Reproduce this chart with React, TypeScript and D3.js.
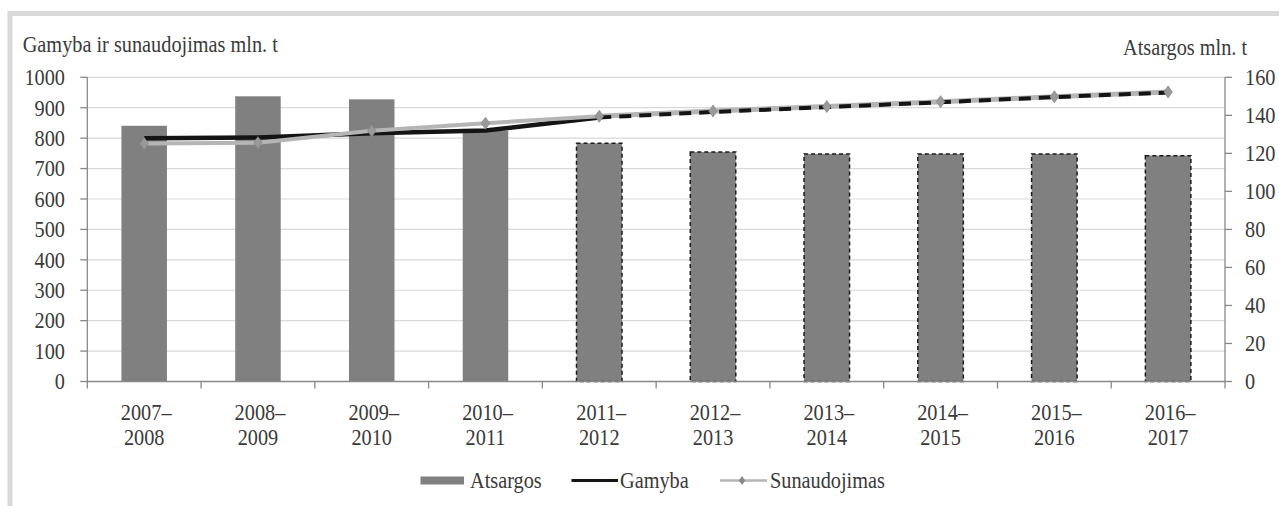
import React from "react";
import * as d3 from "d3";

const categories = ["2007–2008", "2008–2009", "2009–2010", "2010–2011", "2011–2012", "2012–2013", "2013–2014", "2014–2015", "2015–2016", "2016–2017"];
const atsargos = [134.5, 150, 148.4, 132, 125.3, 120.7, 119.7, 119.7, 119.7, 118.8];
const gamyba = [800, 802, 816, 825, 868, 886, 902, 918, 935, 950];
const sunaudojimas = [782, 785, 824, 849, 872, 889, 904, 920, 936, 952];
const forecastFrom = 4;
const leftTicks = [0, 100, 200, 300, 400, 500, 600, 700, 800, 900, 1000];
const rightTicks = [0, 20, 40, 60, 80, 100, 120, 140, 160];
const leftTitle = "Gamyba ir sunaudojimas mln. t";
const rightTitle = "Atsargos mln. t";
const legendLabels = ["Atsargos", "Gamyba", "Sunaudojimas"];

const W = 1279;
const H = 506;
const X0 = 87.3;
const X1 = 1225;
const Y0 = 381.5;
const Y1 = 77.3;
const FS = 20.3;
const SY = 1.13;
const FONT = "Liberation Serif";
const TXT = "#3a3a3a";

const T = ({ x, y, anchor = "start", children }: any) => (
  <text
    transform={`translate(${x},${y}) scale(1,${SY})`}
    textAnchor={anchor}
    style={{ fontFamily: FONT, fontSize: FS + "px" }}
    fill={TXT}
  >
    {children}
  </text>
);

export default function App() {
  const x = d3.scaleBand<string>().domain(categories).range([X0, X1]).paddingInner(0.6).paddingOuter(0.3);
  const step = x.step();
  const yL = d3.scaleLinear().domain([0, 1000]).range([Y0, Y1]);
  const yR = d3.scaleLinear().domain([0, 160]).range([Y0, Y1]);
  const cx = (c: string) => (x(c) as number) + x.bandwidth() / 2;

  const lineIdx = (vals: number[], from: number, to: number) =>
    d3
      .line<number>()
      .x((d) => cx(categories[d]))
      .y((d) => yL(vals[d]))(d3.range(from, to + 1));

  const n = categories.length;
  const diamond = (px: number, py: number, w = 4.2, h = 6) =>
    `M${px},${py - h}L${px + w},${py}L${px},${py + h}L${px - w},${py}Z`;

  const digitOff = 0.34 * FS * SY;

  return (
    <svg width={W} height={H} style={{ position: "absolute", left: 0, top: 0, background: "#fff" }}>
      {/* frame */}
      <rect x={10} y={13.5} width={W + 20} height={H + 20} fill="none" stroke="#d9d9d9" strokeWidth={5} />

      {/* gridlines */}
      {leftTicks.slice(1).map((t) => (
        <line key={t} x1={X0} x2={X1} y1={yL(t)} y2={yL(t)} stroke="#d9d9d9" strokeWidth={1.2} />
      ))}

      {/* bars */}
      {categories.map((c, i) => (
        <rect
          key={c}
          x={x(c)}
          y={yR(atsargos[i])}
          width={x.bandwidth()}
          height={Y0 - yR(atsargos[i])}
          fill="#808080"
          stroke={i >= forecastFrom ? "#1a1a1a" : "none"}
          strokeWidth={1.5}
          strokeDasharray={i >= forecastFrom ? "4,3" : undefined}
        />
      ))}

      {/* axes */}
      <g stroke="#888" strokeWidth={1.3} fill="none">
        <line x1={X0} x2={X0} y1={Y1} y2={Y0 + 7} />
        <line x1={X1} x2={X1} y1={Y1} y2={Y0 + 7} />
        <line x1={X0} x2={X1} y1={Y0} y2={Y0} />
        {leftTicks.map((t) => (
          <line key={"lt" + t} x1={X0 - 7} x2={X0} y1={yL(t)} y2={yL(t)} />
        ))}
        {rightTicks.map((t) => (
          <line key={"rt" + t} x1={X1} x2={X1 + 7} y1={yR(t)} y2={yR(t)} />
        ))}
        {d3.range(1, n).map((i) => (
          <line key={"xt" + i} x1={X0 + step * i} x2={X0 + step * i} y1={Y0} y2={Y0 + 7} />
        ))}
      </g>

      {/* lines: actual part */}
      <path d={lineIdx(gamyba, 0, forecastFrom) || ""} fill="none" stroke="#141414" strokeWidth={4.5} strokeLinejoin="round" />
      <path d={lineIdx(sunaudojimas, 0, forecastFrom) || ""} fill="none" stroke="#b5b5b5" strokeWidth={4} strokeLinejoin="round" />
      {/* forecast part */}
      <path d={lineIdx(sunaudojimas, forecastFrom, n - 1) || ""} fill="none" stroke="#b5b5b5" strokeWidth={5} strokeLinejoin="round" />
      <path d={lineIdx(gamyba, forecastFrom, n - 1) || ""} fill="none" stroke="#141414" strokeWidth={4} strokeDasharray="12,8" />
      {sunaudojimas.map((v, i) => (
        <path key={"m" + i} d={diamond(cx(categories[i]), yL(v))} fill="#9a9a9a" stroke="#8a8a8a" strokeWidth={0.8} />
      ))}

      {/* left tick labels */}
      {leftTicks.map((t) => (
        <T key={"ll" + t} x={65} y={yL(t) + digitOff} anchor="end">
          {t}
        </T>
      ))}
      {/* right tick labels */}
      {rightTicks.map((t) => (
        <T key={"rl" + t} x={1245} y={yR(t) + digitOff} anchor="start">
          {t}
        </T>
      ))}
      {/* x labels */}
      {categories.map((c) => {
        const [a, b] = c.split("–");
        return (
          <g key={"xl" + c}>
            <T x={cx(c) + 2} y={420} anchor="middle">{a + "–"}</T>
            <T x={cx(c)} y={445} anchor="middle">{b}</T>
          </g>
        );
      })}

      {/* titles */}
      <T x={22.7} y={52}>{leftTitle}</T>
      <T x={1123} y={55}>{rightTitle}</T>

      {/* legend */}
      <rect x={420.5} y={476.5} width={43.5} height={8} fill="#808080" />
      <T x={470} y={488}>{legendLabels[0]}</T>
      <line x1={571.5} x2={618} y1={480.5} y2={480.5} stroke="#141414" strokeWidth={3} />
      <T x={620} y={488}>{legendLabels[1]}</T>
      <line x1={720} x2={767} y1={480.5} y2={480.5} stroke="#b5b5b5" strokeWidth={2.5} />
      <path d={diamond(742, 480.5, 3.2, 4.5)} fill="#8a8a8a" />
      <T x={770} y={488}>{legendLabels[2]}</T>
    </svg>
  );
}
